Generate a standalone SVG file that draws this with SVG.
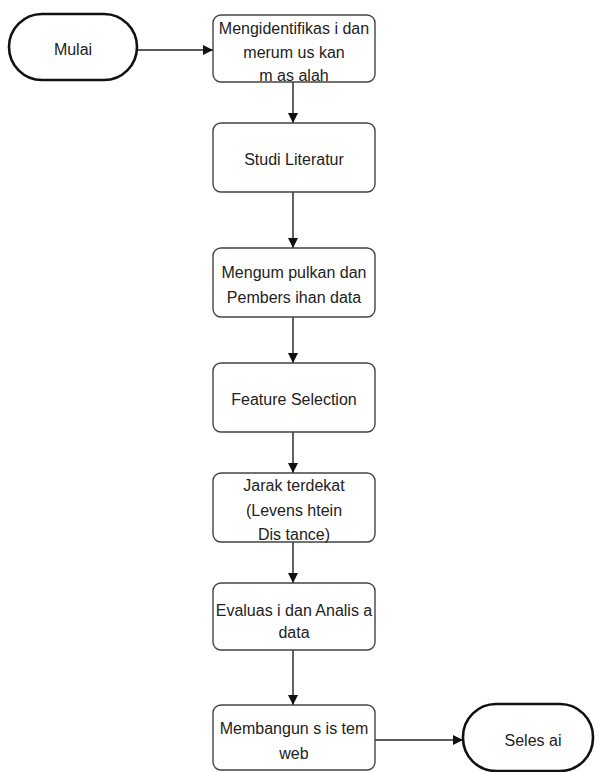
<svg xmlns="http://www.w3.org/2000/svg" width="596" height="772" viewBox="0 0 596 772">
<style>
.box{fill:#fff;stroke:#444;stroke-width:1.4}
.term{fill:#fff;stroke:#111;stroke-width:2.6}
.t{font-family:"Liberation Sans",Arial,sans-serif;font-size:16px;fill:#222;text-anchor:middle}
.c{stroke:#222;stroke-width:1.4;fill:none;marker-end:url(#ah)}
</style>
<defs>
<marker id="ah" viewBox="0 0 10 10" refX="10" refY="5" markerWidth="10" markerHeight="10" markerUnits="userSpaceOnUse" orient="auto">
<path d="M0,0 L10,5 L0,10 z" fill="#111"/>
</marker>
</defs>
<rect width="596" height="772" fill="#fff"/>
<g id="connectors">
<line class="c" x1="137" y1="50" x2="213" y2="50"/>
<line class="c" x1="293" y1="82" x2="293" y2="123"/>
<line class="c" x1="293" y1="192" x2="293" y2="248"/>
<line class="c" x1="293" y1="317" x2="293" y2="363"/>
<line class="c" x1="293" y1="432" x2="293" y2="473"/>
<line class="c" x1="293" y1="542" x2="293" y2="583"/>
<line class="c" x1="293" y1="650" x2="293" y2="705"/>
<line class="c" x1="375" y1="740" x2="463" y2="740"/>
</g>
<g id="mulai">
<rect class="term" x="9" y="14" width="128" height="66" rx="33" ry="33"/>
<text class="t" x="73" y="55">Mulai</text>
</g>
<g id="n1">
<rect class="box" x="213" y="15" width="162" height="67" rx="8"/>
<text class="t" x="294" y="34">Mengidentifikas i dan</text>
<text class="t" x="294" y="58">merum us kan</text>
<text class="t" x="294" y="81">m as alah</text>
</g>
<g id="n2">
<rect class="box" x="213" y="123" width="162" height="69" rx="8"/>
<text class="t" x="294" y="165">Studi Literatur</text>
</g>
<g id="n3">
<rect class="box" x="213" y="248" width="162" height="69" rx="8"/>
<text class="t" x="294" y="278">Mengum pulkan dan</text>
<text class="t" x="294" y="303">Pembers ihan data</text>
</g>
<g id="n4">
<rect class="box" x="213" y="363" width="162" height="69" rx="8"/>
<text class="t" x="294" y="405">Feature Selection</text>
</g>
<g id="n5">
<rect class="box" x="213" y="473" width="162" height="69" rx="8"/>
<text class="t" x="294" y="491">Jarak terdekat</text>
<text class="t" x="294" y="516">(Levens htein</text>
<text class="t" x="294" y="540">Dis tance)</text>
</g>
<g id="n6">
<rect class="box" x="213" y="583" width="162" height="67" rx="8"/>
<text class="t" x="294" y="616">Evaluas i dan Analis a</text>
<text class="t" x="294" y="638">data</text>
</g>
<g id="n7">
<rect class="box" x="213" y="705" width="162" height="65" rx="8"/>
<text class="t" x="294" y="734">Membangun s is tem</text>
<text class="t" x="294" y="759">web</text>
</g>
<g id="selesai">
<rect class="term" x="463" y="704" width="130" height="67" rx="33" ry="33"/>
<text class="t" x="533" y="746">Seles ai</text>
</g>
</svg>
